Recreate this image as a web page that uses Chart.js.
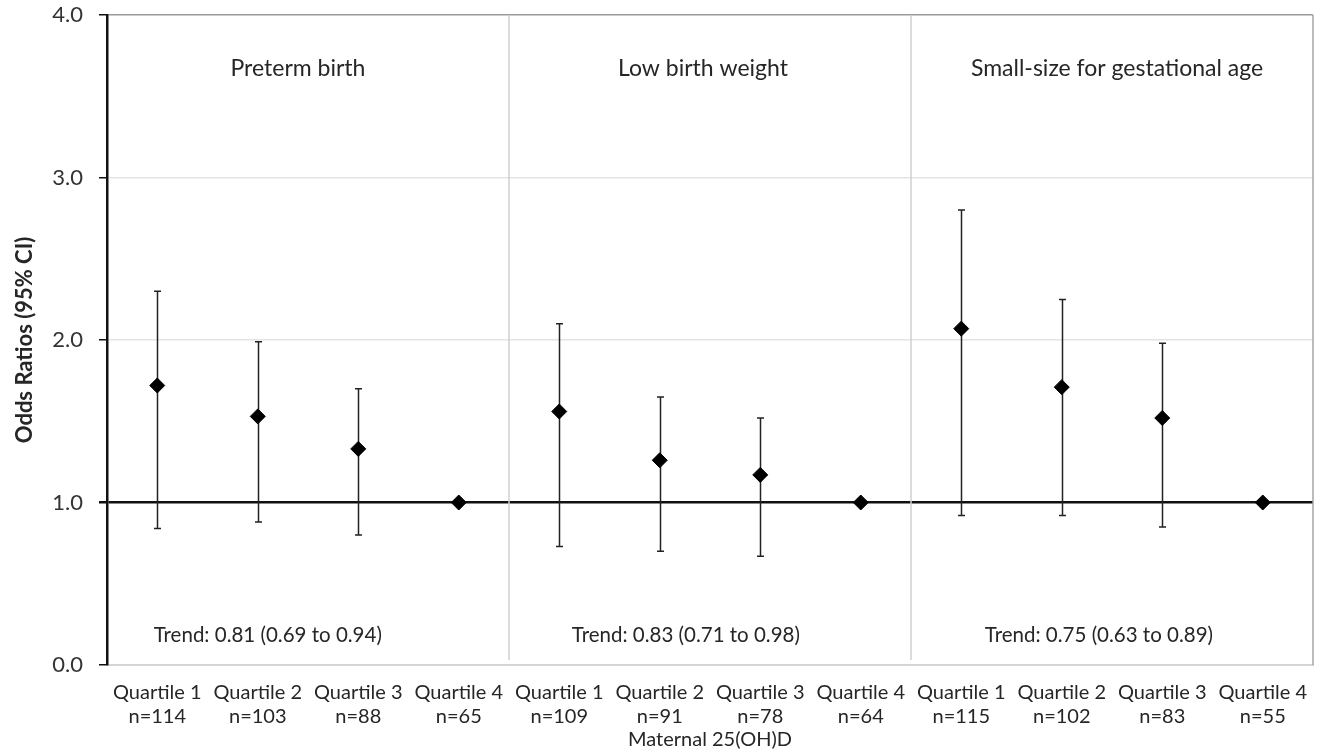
<!DOCTYPE html>
<html lang="en">
<head>
  <meta charset="UTF-8" />
  <title>Odds ratios by maternal 25(OH)D quartile</title>
  <script src="https://cdn.jsdelivr.net/npm/chart.js"></script>
  <style>
    * {
      box-sizing: border-box;
      margin: 0;
      padding: 0;
    }

    body {
      background: #fff;
      width: 1327px;
      height: 756px;
      overflow: hidden;
    }

    #chart {
      display: block;
    }
  </style>
</head>
<body>

<canvas id="chart" width="1327" height="756"></canvas>

<script>
  // data
  const quartiles = ['Quartile 1', 'Quartile 2', 'Quartile 3', 'Quartile 4',
                     'Quartile 1', 'Quartile 2', 'Quartile 3', 'Quartile 4',
                     'Quartile 1', 'Quartile 2', 'Quartile 3', 'Quartile 4'];
  const sampleSizes = [114, 103, 88, 65, 109, 91, 78, 64, 115, 102, 83, 55];
  const oddsRatios = [1.72, 1.53, 1.33, 1.00, 1.56, 1.26, 1.17, 1.00, 2.07, 1.71, 1.52, 1.00];
  const ciLower = [0.84, 0.88, 0.80, null, 0.73, 0.70, 0.67, null, 0.92, 0.92, 0.85, null];
  const ciUpper = [2.30, 1.99, 1.70, null, 2.10, 1.65, 1.52, null, 2.80, 2.25, 1.98, null];
  const outcomes = ['Preterm birth', 'Low birth weight', 'Small-size for gestational age'];
  const trends = ['Trend: 0.81 (0.69 to 0.94)', 'Trend: 0.83 (0.71 to 0.98)', 'Trend: 0.75 (0.63 to 0.89)'];
  const yTicks = [0, 1, 2, 3, 4];
  const xTitle = 'Maternal 25(OH)D';
  const yTitle = 'Odds Ratios (95% CI)';

  const FONT = "Lato, 'Open Sans', sans-serif";
  const TEXT = '#262626';

  const labels = quartiles.map((q, i) => [q, 'n=' + sampleSizes[i]]);

  // whiskers + caps, drawn under the diamonds
  const errorBars = {
    id: 'errorBars',
    beforeDatasetsDraw(chart) {
      const { ctx, scales: { x, y } } = chart;
      ctx.save();
      ctx.strokeStyle = '#222';
      ctx.lineWidth = 1.5;
      ciLower.forEach((lo, i) => {
        const hi = ciUpper[i];
        if (lo == null || hi == null) return;
        const px = Math.round(x.getPixelForValue(i)) + 0.5;
        const top = y.getPixelForValue(hi);
        const bot = y.getPixelForValue(lo);
        ctx.beginPath();
        ctx.moveTo(px, top);
        ctx.lineTo(px, bot);
        ctx.moveTo(px - 3.5, top);
        ctx.lineTo(px + 3.5, top);
        ctx.moveTo(px - 3.5, bot);
        ctx.lineTo(px + 3.5, bot);
        ctx.stroke();
      });
      ctx.restore();
    }
  };

  // panel separators, right border, outcome titles and trend text
  const panels = {
    id: 'panels',
    beforeDatasetsDraw(chart) {
      const { ctx, chartArea: a, scales: { x, y } } = chart;
      ctx.save();
      ctx.strokeStyle = '#cfcfcf';
      ctx.lineWidth = 1.5;
      [4, 8].forEach(k => {
        const sx = (x.getPixelForValue(k - 1) + x.getPixelForValue(k)) / 2;
        ctx.beginPath();
        ctx.moveTo(sx, a.top);
        ctx.lineTo(sx, a.bottom - 5);
        ctx.stroke();
      });
      ctx.strokeStyle = '#a6a6a6';
      ctx.beginPath();
      ctx.moveTo(a.right, a.top);
      ctx.lineTo(a.right, a.bottom);
      ctx.stroke();

      const titleAt = [1.4, 5.43, 9.55];
      const trendAt = [1.1, 5.26, 9.37];
      ctx.fillStyle = TEXT;
      ctx.textAlign = 'center';
      ctx.textBaseline = 'middle';
      ctx.font = '23px ' + FONT;
      outcomes.forEach((t, i) => ctx.fillText(t, x.getPixelForValue(titleAt[i]), y.getPixelForValue(3.67)));
      ctx.font = '20.5px ' + FONT;
      trends.forEach((t, i) => ctx.fillText(t, x.getPixelForValue(trendAt[i]), y.getPixelForValue(0.18)));
      ctx.restore();
    }
  };

  new Chart(document.getElementById('chart'), {
    type: 'line',
    data: {
      labels: labels,
      datasets: [{
        label: 'Odds ratio',
        data: oddsRatios,
        showLine: false,
        pointStyle: 'rectRot',
        pointRadius: 7.5,
        pointBackgroundColor: '#000',
        pointBorderColor: '#000',
        pointBorderWidth: 1
      }]
    },
    options: {
      responsive: false,
      animation: false,
      layout: { padding: { top: 15, right: 14, left: 0, bottom: 0 } },
      plugins: {
        legend: { display: false },
        tooltip: { enabled: false }
      },
      scales: {
        x: {
          offset: true,
          grid: { display: false, drawTicks: false },
          border: { color: '#d4d4d4', width: 2 },
          ticks: {
            color: TEXT,
            font: { family: FONT, size: 20, lineHeight: 1.2 },
            padding: 16,
            maxRotation: 0,
            autoSkip: false
          },
          title: {
            display: true,
            text: xTitle,
            color: TEXT,
            font: { family: FONT, size: 20, lineHeight: 1.2 },
            padding: { top: 0, bottom: 4 }
          },
          afterFit(scale) { scale.height = 91; }
        },
        y: {
          min: 0,
          max: 4,
          afterBuildTicks(scale) { scale.ticks = yTicks.map(v => ({ value: v })); },
          grid: {
            color: ctx => {
              const v = ctx.tick.value;
              if (v === 1) return '#111';
              if (v === 4) return '#9a9a9a';
              if (v === 0) return 'rgba(0,0,0,0)';
              return '#e3e3e3';
            },
            lineWidth: ctx => (ctx.tick.value === 1 ? 2.5 : 1.5),
            tickColor: '#111',
            tickLength: 8
          },
          border: { color: '#111', width: 2.5 },
          ticks: {
            color: '#333',
            font: { family: FONT, size: 22 },
            padding: 16,
            callback: v => v.toFixed(1)
          },
          title: {
            display: true,
            text: yTitle,
            color: TEXT,
            font: { family: FONT, size: 22, weight: 'bold', lineHeight: 1.2 },
            padding: { top: 12, bottom: 0 }
          },
          afterFit(scale) {
            scale.width = 107;
            scale.paddingTop = 0;
            scale.paddingBottom = 0;
          }
        }
      }
    },
    plugins: [errorBars, panels]
  });
</script>

</body>
</html>
